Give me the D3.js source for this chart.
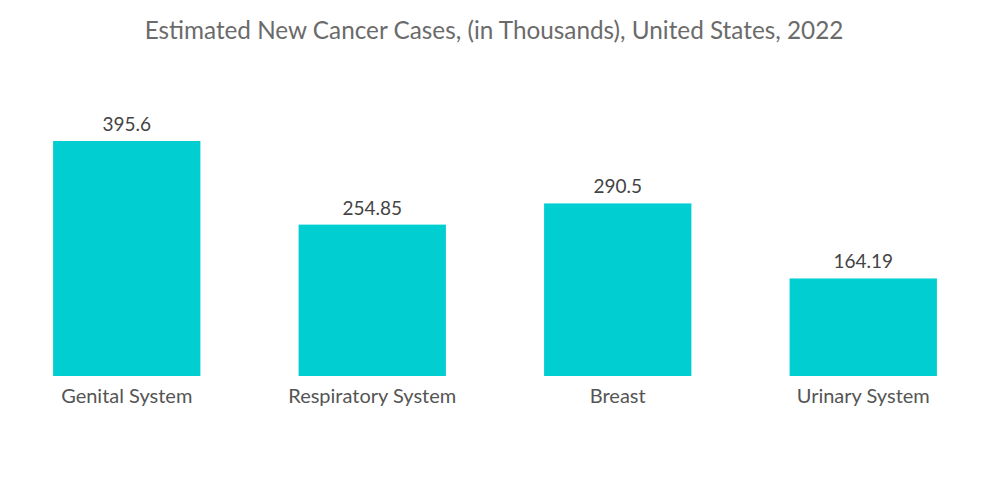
<!DOCTYPE html>
<html>
<head>
<meta charset="utf-8">
<script src="https://cdn.jsdelivr.net/npm/d3@7"></script>
<style>
  body { margin: 0; background: #fff; }
  text { font-family: Lato, "Open Sans", sans-serif; }
</style>
</head>
<body>
<svg id="chart"></svg>
<script>
const categories = ["Genital System", "Respiratory System", "Breast", "Urinary System"];
const values = [395.6, 254.85, 290.5, 164.19];
const valueLabels = ["395.6", "254.85", "290.5", "164.19"];
const title = "Estimated New Cancer Cases, (in Thousands), United States, 2022";

const width = 1000, height = 504;
const svg = d3.select("#chart").attr("width", width).attr("height", height);

svg.append("text")
    .attr("x", 494)
    .attr("y", 39)
    .attr("text-anchor", "middle")
    .attr("font-size", "24.3px")
    .attr("fill", "#6b6b6b")
    .text(title);

let x = d3.scaleBand()
    .domain(categories)
    .range([4, 986])
    .paddingInner(0.4)
    .paddingOuter(0.2);

let y = d3.scaleLinear()
    .domain([0, 395.6])
    .range([376, 141]);

svg.selectAll(".bar")
    .data(categories)
    .enter()
    .append("rect")
        .classed("bar", true)
        .attr("x", d => x(d))
        .attr("width", x.bandwidth())
        .attr("y", (d, i) => y(values[i]))
        .attr("height", (d, i) => y(0) - y(values[i]))
        .attr("fill", "#00ced1");

svg.selectAll(".val")
    .data(categories)
    .enter()
    .append("text")
        .classed("val", true)
        .attr("x", d => x(d) + x.bandwidth() / 2)
        .attr("y", (d, i) => y(values[i]) - 10)
        .attr("text-anchor", "middle")
        .attr("font-size", "19px")
        .attr("fill", "#444")
        .text((d, i) => valueLabels[i]);

// category axis labels
svg.selectAll(".cat")
    .data(categories)
    .enter()
    .append("text")
        .classed("cat", true)
        .attr("x", d => x(d) + x.bandwidth() / 2)
        .attr("y", 403)
        .attr("text-anchor", "middle")
        .attr("font-size", "20px")
        .attr("fill", "#555")
        .text(d => d);
</script>
</body>
</html>
